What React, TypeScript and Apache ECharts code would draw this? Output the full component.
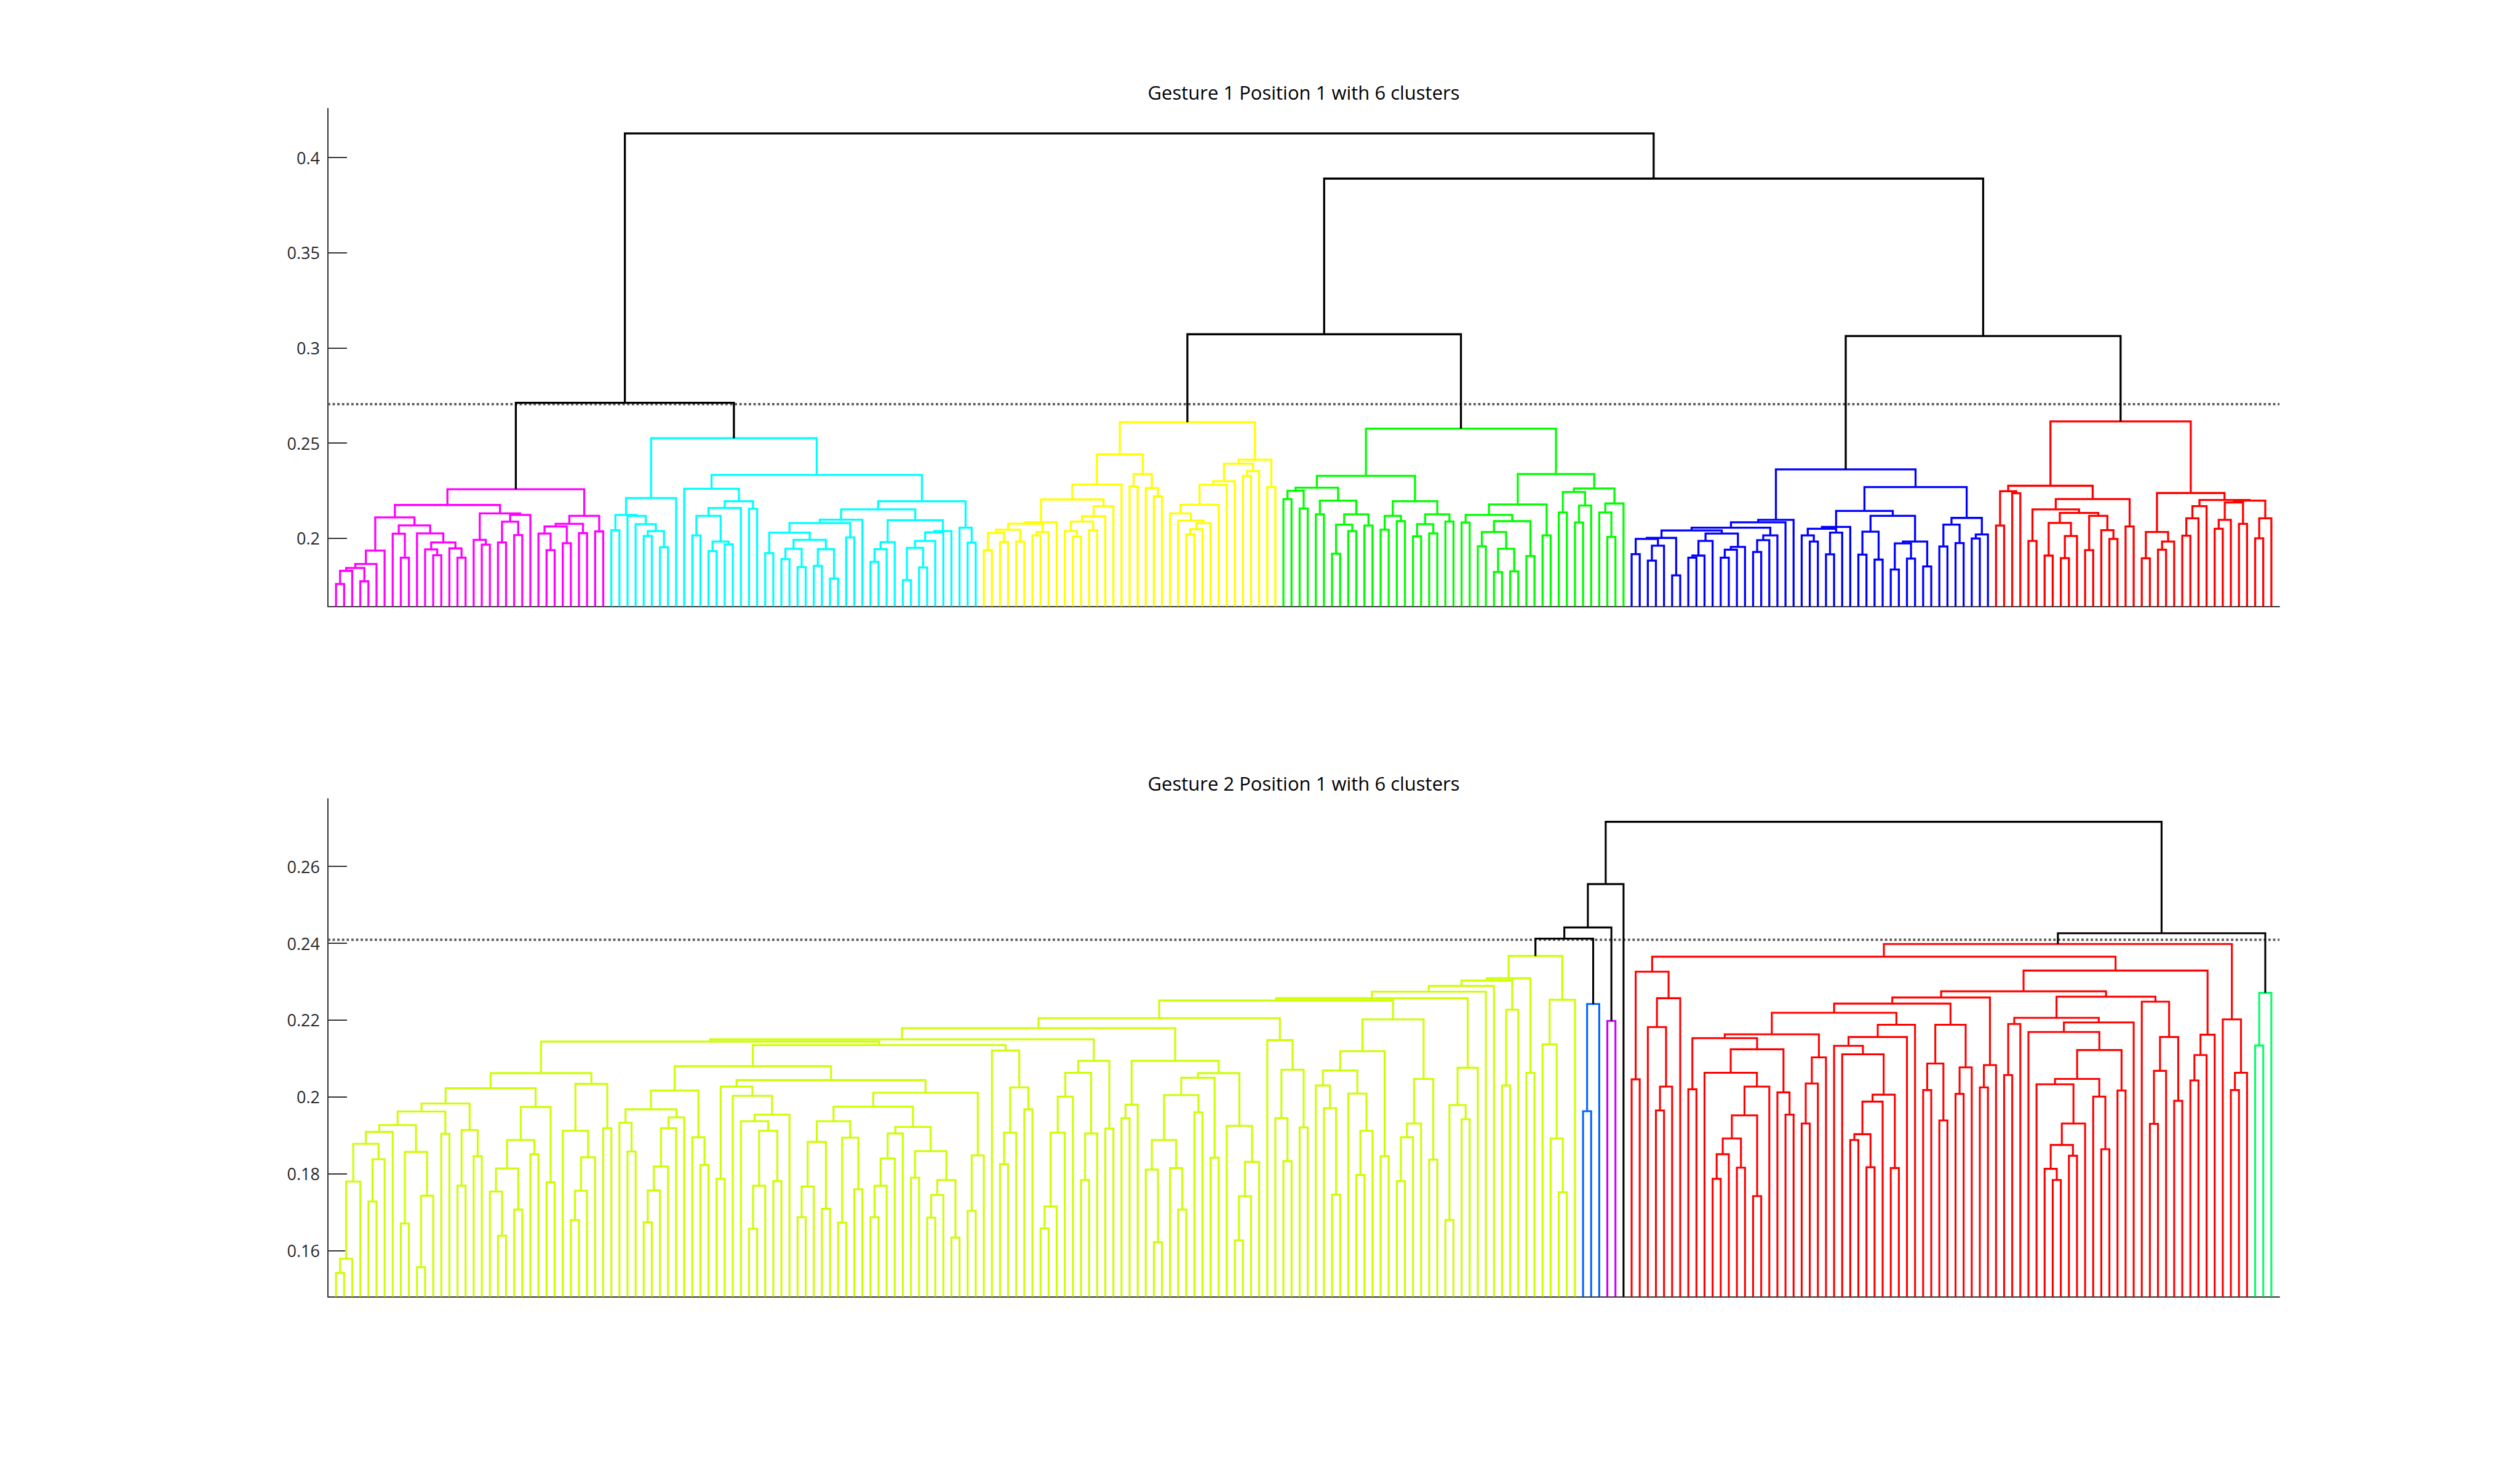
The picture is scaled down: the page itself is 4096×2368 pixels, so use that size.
import React, { useEffect, useRef } from "react";
import * as echarts from "echarts";

// ---------------- Gesture 1 (top) : cluster trees, "(a,b)h" = merge at height h, "*" = leaf ----------------
const g1_magenta_a = "(((((*,*)0.176,*)0.1829,(*,*)0.1774)0.1844,*)0.1865,*)0.1935";
const g1_magenta_b = "((*,(*,*)0.1898)0.2024,(*,((*,(*,*)0.1911)0.1942,(*,(*,*)0.1898)0.1947)0.1978)0.2026)0.2068";
const g1_magenta_c = "((*,(*,*)0.1967)0.1992,(((*,*)0.1978,(*,*)0.2017)0.2087,*)0.2123)0.2131";
const g1_magenta_d = "((((*,(*,*)0.1938)0.2025,(*,*)0.1974)0.2062,(*,*)0.2027)0.2076,(*,*)0.2036)0.2118";
const g1_magenta = `(((${g1_magenta_a},${g1_magenta_b})0.211,${g1_magenta_c})0.2175,${g1_magenta_d})0.2258`;

const g1_cyan_a = "(((*,*)0.2043,(*,(*,((*,*)0.2012,(*,*)0.1953)0.2038)0.2074)0.2118)0.2123,*)0.2212";
const g1_cyan_b = "(*,((((*,*)0.2015,((*,*)0.1933,(*,*)0.1968)0.1983)0.2118,*)0.2159,(*,*)0.2155)0.2195)0.226";
const g1_cyan_c = "((((*,*)0.1922,(((*,*)0.1891,(*,*)0.1849)0.1945,((*,*)0.1855,(*,*)0.1788)0.1943)0.1992)0.203,(*,*)0.2005)0.208,*)0.2098";
const g1_cyan_d = "((((*,*)0.1876,*)0.1943,*)0.198,(((((*,*)0.178,(*,*)0.1847)0.195,*)0.1986,*)0.2031,*)0.2038)0.2095";
const g1_cyan_e = "(*,(*,*)0.1977)0.2056";
const g1_cyan = `(${g1_cyan_a},(${g1_cyan_b},((${g1_cyan_c},${g1_cyan_d})0.2152,${g1_cyan_e})0.2195)0.2333)0.2526`;

const g1_yellow_a = "(((((*,*)0.1938,(*,*)0.1981)0.2028,(*,*)0.1983)0.2045,((*,*)0.2015,*)0.2033)0.2077,*)0.2085";
const g1_yellow_b = "((((*,(*,*)0.2009)0.2038,(*,*)0.2043)0.2088,*)0.2116,*)0.2169";
const g1_yellow_c = "((*,*)0.2273,(*,(*,*)0.2221)0.2264)0.2338";
const g1_yellow_d = "((((*,(*,(((*,*)0.2021,*)0.2048,*)0.2079)0.2093)0.2131,*)0.2176,*)0.2281,*)0.23";
const g1_yellow = `((((${g1_yellow_a},${g1_yellow_b})0.2204,*)0.2283,${g1_yellow_c})0.2441,((${g1_yellow_d},((*,*)0.2328,*)0.2353)0.2392,(*,*)0.2269)0.2413)0.261`;

const g1_green_a = "(((*,*)0.2206,(*,*)0.2157)0.225,((*,*)0.2126,(((*,*)0.1919,(*,*)0.2038)0.2072,(*,*)0.2067)0.2126)0.2198)0.2266";
const g1_green_b = "(((*,*)0.2045,(*,*)0.209)0.2118,(((*,*)0.201,(*,*)0.2026)0.2074,(*,*)0.2088)0.2126)0.2195";
const g1_green_c = "(((*,*)0.2083,(((*,*)0.1958,((*,*)0.1823,(*,*)0.1826)0.1945)0.2033,(*,*)0.1907)0.209)0.2123,(*,*)0.2015)0.2178";
const g1_green_d = "(((*,*)0.2136,((*,*)0.2083,*)0.2172)0.2243,((*,(*,*)0.2007)0.2136,*)0.2183)0.2262";
const g1_green = `((${g1_green_a},${g1_green_b})0.2328,(${g1_green_c},${g1_green_d})0.2338)0.2576`;

const g1_blue_a = "((((*,*)0.1917,((*,*)0.1883,*)0.1961)0.1997,(*,*)0.1805)0.2002,((((*,*)0.1898,*)0.1909,*)0.1986,(((*,*)0.1898,*)0.194,*)0.1955)0.2025)0.2041";
const g1_blue_b = "(((*,*)0.1928,*)0.199,*)0.2015";
const g1_blue_c = "(((*,(*,*)0.1983)0.2015,((*,*)0.1916,*)0.203)0.205,*)0.206";
const g1_blue_d = "(((*,*)0.1914,(*,*)0.1888)0.2035,(((*,*)0.1836,(*,*)0.1893)0.1973,(*,*)0.1852)0.1983)0.2118";
const g1_blue_e = "(((*,*)0.1957,(*,*)0.1975)0.2072,((*,*)0.1999,*)0.202)0.2107";
const g1_blue = `((((${g1_blue_a},${g1_blue_b})0.2056,*)0.2084,*)0.2097,((${g1_blue_c},${g1_blue_d})0.2144,${g1_blue_e})0.2269)0.2362`;

const g1_red_a = "((*,*)0.2067,(*,*)0.2237)0.2247";
const g1_red_b = "(((*,*)0.1986,(((*,*)0.1909,((*,*)0.1896,*)0.2012)0.2081,((*,*)0.1938,(*,(*,*)0.1997)0.2043)0.2118)0.2133)0.2152,(*,*)0.2062)0.2206";
const g1_red_c = "((*,*)0.1895,((*,*)0.194,*)0.1983)0.2033";
const g1_red_d = "((((*,*)0.2014,*)0.2105,*)0.2169,((((*,*)0.205,*)0.2097,(*,*)0.2076)0.2188,((*,*)0.2,*)0.2105)0.2198)0.2201";
const g1_red = `((${g1_red_a},${g1_red_b})0.2276,(${g1_red_c},${g1_red_d})0.2238)0.2614`;

const g1_joins = "((M,C)0.2712,((Y,G)0.3072,(B,R)0.3063)0.389)0.4127";
const g1_cutoff = 0.2705;
const g1_ticks = [0.2, 0.25, 0.3, 0.35, 0.4];
const g1_title = "Gesture 1 Position 1 with 6 clusters";

// ---------------- Gesture 2 (bottom) ----------------
const g2_y01 = "(((((*,*)0.1542,*)0.1579,*)0.178,((*,*)0.1728,*)0.1838)0.1878,*)0.1909";
const g2_y02 = "((*,*)0.1671,((*,*)0.1557,*)0.1743)0.1857";
const g2_y03 = "((*,*)0.1769,(*,*)0.1846)0.1914";
const g2_y04 = "((((*,(*,*)0.1639)0.1754,(*,*)0.1707)0.1814,(*,*)0.1851)0.1888,(*,*)0.1778)0.1974";
const g2_y05 = "((*,(((*,*)0.168,*)0.1756,*)0.1843)0.1912,(*,*)0.1919)0.2034";
const g2_y06 = "((*,(*,*)0.1858)0.1933,(((((*,*)0.1674,*)0.1757,*)0.1819,*)0.1919,*)0.1947)0.1968";
const g2_y07 = "((*,*)0.1787,(*,((*,(((*,*)0.1657,*)0.1769,(*,*)0.1781)0.1912)0.1937,*)0.1954)0.2003)0.2027";
const g2_y08 = "((((*,*)0.1687,*)0.1767,(*,*)0.1709)0.1883,((*,*)0.1673,(*,*)0.176)0.1894)0.1937";
const g2_y09 = "(((((*,*)0.1687,*)0.1769,*)0.184,*)0.1905,((*,*)0.179,(((*,*)0.1686,*)0.1745,(*,*)0.1634)0.1784)0.1859)0.1922";
const g2_y10 = "(*,(((*,*)0.1825,*)0.1907,(*,*)0.1968)0.2025)0.2121";
const g2_y11 = "((((((*,*)0.1658,*)0.1715,*)0.1907,*)0.2001,((*,*)0.1784,*)0.1905)0.2063,(*,*)0.1918)0.2094";
const g2_y12a = "(((*,(*,*)0.1622)0.1811,(*,(*,*)0.1707)0.1815)0.1888,(*,*)0.196)0.2005";
const g2_y12b = "(*,(((*,*)0.1627,*)0.1742,*)0.1831)0.1925";
const g2_y13 = "(*,((*,(*,*)0.1833)0.1945,(*,*)0.1921)0.2071)0.2148";
const g2_y14a = "((*,(*,(*,*)0.1746)0.1971)0.203,(*,((*,*)0.1797,*)0.1912)0.2009)0.2069";
const g2_y14b = "((((*,*)0.1781,*)0.1895,*)0.1931,(*,*)0.1837)0.2047";
const g2_y15 = "(((*,*)0.168,(*,*)0.1942)0.1979,*)0.2076";
const g2_y16 = "((*,(*,(*,*)0.1752)0.1892)0.2137,*)0.2253";

const g2_yN691 = `(((((${g2_y01},${g2_y02})0.1927,(*,*)0.1904)0.1962,${g2_y03})0.1983,${g2_y04})0.2023,${g2_y05})0.2062`;
const g2_yN1120 = `(${g2_y06},(*,(*,*)0.1823)0.1895)0.2017`;
const g2_yN373 = `((${g2_y08},${g2_y09})0.1975,((*,*)0.1704,*)0.1848)0.2011`;
const g2_yN1369 = `(${g2_yN1120},(${g2_y07},${g2_yN373})0.2044)0.208`;
const g2_yN298 = `((${g2_yN691},(${g2_yN1369},${g2_y10})0.2135)0.2144,${g2_y11})0.215`;
const g2_yN1172 = `(((*,*)0.1945,*)0.198,((${g2_y12a},(*,*)0.1842)0.205,${g2_y12b})0.2062)0.2094`;
const g2_yN1121 = `((${g2_yN298},${g2_yN1172})0.2179,${g2_y13})0.2205`;
const g2_yN320 = `((${g2_y14a},(*,*)0.1846)0.2119,${g2_y14b})0.2202`;
const g2_yYc = `((${g2_yN1121},${g2_yN320})0.2251,${g2_y15})0.2257`;
const g2_yYa = `((((${g2_yYc},*)0.2274,*)0.2289,((*,*)0.203,*)0.2227)0.2303,(*,*)0.2063)0.2309`;
const g2_yellow = `(${g2_yYa},${g2_y16})0.2367`;

const g2_blue = "((*,*)0.1963,*)0.2242";
const g2_purple = "(*,*)0.2198";
const g2_single = "*";

const g2_r01 = "((*,*)0.2046,((*,((*,*)0.1965,*)0.2027)0.2182,*)0.2257)0.2326";
const g2_r02 = "(*,(((((*,*)0.1787,*)0.1851,(*,*)0.1816)0.1892,(*,*)0.1742)0.1952,*)0.2027)0.2063";
const g2_r03 = "(*,(*,*)0.1954)0.2012";
const g2_r04 = "(((*,*)0.1931,*)0.2035,*)0.2103";
const g2_r05a = "((*,*)0.1888,(*,*)0.1817)0.1903";
const g2_r05 = `(((*,(*,((${g2_r05a},*)0.1988,(*,*)0.1815)0.2006)0.2111)0.2133,*)0.2156,*)0.2188`;
const g2_r06 = "(((*,*)0.2018,(*,*)0.1939)0.2087,((*,*)0.2008,*)0.2077)0.2188";
const g2_r07 = "((*,*)0.2025,*)0.2083";
const g2_r08 = "((*,*)0.2057,*)0.219";
const g2_r09a = "(*,(((*,(*,*)0.1784)0.1813,(*,*)0.1847)0.1875,*)0.1931)0.2033";
const g2_r09 = `((*,((${g2_r09a},(*,(*,*)0.1864)0.2001)0.2047,(*,*)0.2017)0.2122)0.2169,*)0.2194`;
const g2_r10 = "(*,(((*,*)0.193,*)0.2068,(*,*)0.199)0.2156)0.2248";
const g2_r11 = "(((*,*)0.2043,*)0.2109,*)0.2162";
const g2_r12 = "(*,((*,*)0.2018,*)0.2063)0.2202";
const g2_rQ9 = `((*,*)0.202,(${g2_r02},${g2_r03})0.2124)0.2153`;
const g2_rP5 = `((((${g2_rQ9},${g2_r04})0.2163,${g2_r05})0.2219,${g2_r06})0.2243,${g2_r07})0.2259`;
const g2_rN1017 = `((${g2_r08},${g2_r09})0.2206,${g2_r10})0.2261`;
const g2_red = `((${g2_r01},((${g2_rP5},${g2_rN1017})0.2275,${g2_r11})0.2329)0.2365,${g2_r12})0.2398`;
const g2_green = "((*,*)0.2134,*)0.2271";

const g2_joins = "((((Y,B)0.2412,P)0.2441,K)0.2554,(R,G)0.2426)0.2716";
const g2_cutoff = 0.2409;
const g2_ticks = [0.16, 0.18, 0.2, 0.22, 0.24, 0.26];
const g2_title = "Gesture 2 Position 1 with 6 clusters";

const N_LEAVES = 240;

// ---------------- tree helpers ----------------
type TNode = { h: number; kids: TNode[] | null; color: string; x: number };

function parseTree(name: string, src: string, refs: Record<string, TNode>, color: string): TNode {
  let i = 0;
  const fail = (msg: string) => {
    throw new Error(name + ": " + msg + " at " + i + " …" + src.slice(Math.max(0, i - 30), i + 10));
  };
  const readNum = () => {
    const m = /^[0-9.]+/.exec(src.slice(i));
    if (!m) fail("number expected");
    i += m![0].length;
    return parseFloat(m![0]);
  };
  const node = (): TNode => {
    const c = src[i];
    if (c === "(") {
      i++;
      const a = node();
      if (src[i] !== ",") fail("',' expected");
      i++;
      const b = node();
      if (src[i] !== ")") fail("')' expected");
      i++;
      return { h: readNum(), kids: [a, b], color, x: 0 };
    }
    if (c === "*") {
      i++;
      return { h: NaN, kids: null, color, x: 0 };
    }
    const k = src[i];
    if (!refs[k]) fail("bad token '" + k + "'");
    i++;
    return refs[k];
  };
  const root = node();
  if (i !== src.length) fail("trailing text");
  return root;
}

type Seg = { coords: number[][]; color: string };

function layoutSegments(root: TNode, ymin: number): { segs: Seg[]; leaves: number } {
  let leaf = 0;
  const place = (n: TNode) => {
    if (!n.kids) {
      n.x = ++leaf;
      return;
    }
    place(n.kids[0]);
    place(n.kids[1]);
    n.x = (n.kids[0].x + n.kids[1].x) / 2;
  };
  place(root);
  const segs: Seg[] = [];
  const walk = (n: TNode) => {
    if (!n.kids) return;
    const [a, b] = n.kids;
    const ya = a.kids ? a.h : ymin;
    const yb = b.kids ? b.h : ymin;
    segs.push({
      coords: [
        [a.x, ya],
        [a.x, n.h],
        [b.x, n.h],
        [b.x, yb],
      ],
      color: n.color,
    });
    walk(a);
    walk(b);
  };
  walk(root);
  return { segs, leaves: leaf };
}

function buildPanel(
  clusters: { key: string; tree: string; color: string }[],
  joins: string,
  ymin: number
) {
  const refs: Record<string, TNode> = {};
  for (const c of clusters) refs[c.key] = parseTree(c.key, c.tree, refs, c.color);
  const root = parseTree("joins", joins, refs, "#000000");
  return layoutSegments(root, ymin);
}

// ---------------- layout constants ----------------
const FONT = '"Open Sans", "Liberation Sans", sans-serif';
const GRID_LEFT = 533;
const GRID_W = 3172;
const PANELS = [
  { top: 176.4, height: 809.2, ymin: 0.1642, ymax: 0.4258 },
  { top: 1298.2, height: 809.4, ymin: 0.148, ymax: 0.2776 },
];

export default function App() {
  const ref = useRef<HTMLDivElement>(null);

  useEffect(() => {
    if (!ref.current) return;
    const chart = echarts.init(ref.current, undefined, { renderer: "svg" });
    const debug: string[] = [];
    let p1: { segs: Seg[]; leaves: number } = { segs: [], leaves: 0 };
    let p2: { segs: Seg[]; leaves: number } = { segs: [], leaves: 0 };
    try {
      p1 = buildPanel(
        [
          { key: "M", tree: g1_magenta, color: "#FF00FF" },
          { key: "C", tree: g1_cyan, color: "#00FFFF" },
          { key: "Y", tree: g1_yellow, color: "#FFFF00" },
          { key: "G", tree: g1_green, color: "#00FF00" },
          { key: "B", tree: g1_blue, color: "#0000FF" },
          { key: "R", tree: g1_red, color: "#FF0000" },
        ],
        g1_joins,
        PANELS[0].ymin
      );
    } catch (e: any) {
      debug.push("top " + e.message);
    }
    try {
      p2 = buildPanel(
        [
          { key: "Y", tree: g2_yellow, color: "#CCFF00" },
          { key: "B", tree: g2_blue, color: "#0066FF" },
          { key: "P", tree: g2_purple, color: "#CC00FF" },
          { key: "K", tree: g2_single, color: "#000000" },
          { key: "R", tree: g2_red, color: "#FF0000" },
          { key: "G", tree: g2_green, color: "#00FF66" },
        ],
        g2_joins,
        PANELS[1].ymin
      );
    } catch (e: any) {
      debug.push("bottom " + e.message);
    }
    if (p1.leaves !== N_LEAVES) debug.push("top leaves " + p1.leaves);
    if (p2.leaves !== N_LEAVES) debug.push("bottom leaves " + p2.leaves);

    const series: any[] = [];
    const panelsData = [
      { segs: p1.segs, cutoff: g1_cutoff, width: 3.3 },
      { segs: p2.segs, cutoff: g2_cutoff, width: 3.1 },
    ];
    panelsData.forEach((pd, k) => {
      series.push({
        type: "line",
        xAxisIndex: k,
        yAxisIndex: k,
        data: [
          [0, pd.cutoff],
          [N_LEAVES + 1, pd.cutoff],
        ],
        showSymbol: false,
        symbol: "none",
        silent: true,
        z: 1,
        lineStyle: { color: "#555555", width: 3.8, type: [3.8, 3.8], cap: "butt" },
      });
      const byColor = new Map<string, Seg[]>();
      for (const s of pd.segs) {
        if (!byColor.has(s.color)) byColor.set(s.color, []);
        byColor.get(s.color)!.push(s);
      }
      byColor.forEach((list, color) => {
        series.push({
          type: "lines",
          coordinateSystem: "cartesian2d",
          xAxisIndex: k,
          yAxisIndex: k,
          polyline: true,
          silent: true,
          z: color === "#000000" ? 3 : 2,
          lineStyle: { color, width: pd.width, opacity: 1, join: "miter", cap: "butt" },
          data: list.map((s) => ({ coords: s.coords })),
        });
      });
    });

    const axisColor = "#333333";
    const option: any = {
      animation: false,
      backgroundColor: "#ffffff",
      title: [
        {
          text: g1_title,
          left: GRID_LEFT + GRID_W / 2,
          top: 134,
          textAlign: "center",
          padding: 0,
          textStyle: { fontSize: 31, fontWeight: "normal", fontFamily: FONT, color: "#000000" },
        },
        {
          text: g2_title,
          left: GRID_LEFT + GRID_W / 2,
          top: 1257,
          textAlign: "center",
          padding: 0,
          textStyle: { fontSize: 31, fontWeight: "normal", fontFamily: FONT, color: "#000000" },
        },
      ],
      grid: PANELS.map((p) => ({ left: GRID_LEFT, top: p.top, width: GRID_W, height: p.height, containLabel: false })),
      xAxis: PANELS.map((p, k) => ({
        type: "value",
        gridIndex: k,
        min: 0,
        max: N_LEAVES + 1,
        axisLine: { show: true, onZero: false, lineStyle: { color: axisColor, width: 2 } },
        axisTick: { show: false },
        axisLabel: { show: false },
        splitLine: { show: false },
      })),
      yAxis: PANELS.map((p, k) => {
        const ticks = k === 0 ? g1_ticks : g2_ticks;
        return {
          type: "value",
          gridIndex: k,
          min: p.ymin,
          max: p.ymax,
          axisLine: { show: true, onZero: false, lineStyle: { color: axisColor, width: 2 } },
          axisTick: {
            show: true,
            inside: true,
            length: 31,
            customValues: ticks,
            lineStyle: { color: axisColor, width: 2 },
          },
          axisLabel: {
            show: true,
            customValues: ticks,
            margin: 13,
            fontSize: 27,
            fontFamily: FONT,
            color: "#262626",
            formatter: (v: number) => String(parseFloat(Number(v).toFixed(3))),
          },
          splitLine: { show: false },
        };
      }),
      series,
      graphic: debug.length
        ? [
            {
              type: "text",
              left: 20,
              top: 20,
              style: { text: debug.join(" | "), fill: "#ff0000", fontSize: 36 },
            },
          ]
        : [],
    };
    chart.setOption(option);
    return () => {
      chart.dispose();
    };
  }, []);

  return (
    <div
      ref={ref}
      style={{ position: "absolute", left: 0, top: 0, width: 4096, height: 2368, background: "#ffffff" }}
    />
  );
}
